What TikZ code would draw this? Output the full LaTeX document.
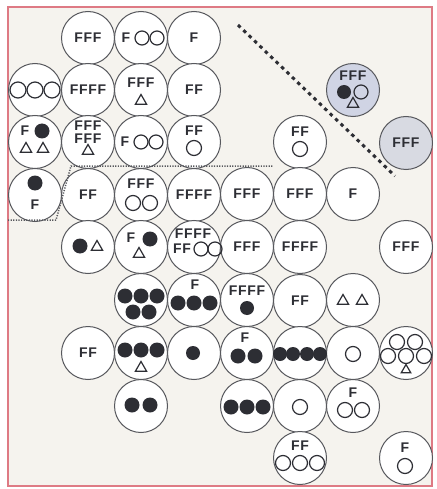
\documentclass[tikz,border=0pt]{standalone}
\usepackage{fontspec}
\newfontfamily\cellfont[LetterSpace=5]{Liberation Sans}
\usetikzlibrary{shapes.geometric}
\definecolor{ink}{RGB}{45,46,52}
\definecolor{frame}{RGB}{222,122,132}
\definecolor{paper}{RGB}{245,243,238}
\definecolor{bluish}{RGB}{208,212,228}
\definecolor{greyish}{RGB}{216,218,226}

\begin{document}
\begin{tikzpicture}[x=1pt,y=-1pt,
  cel/.style={draw=ink!80,line width=1pt,circle,fill=white,minimum size=53pt,inner sep=0pt,
    font=\cellfont\bfseries\fontsize{14}{14}\selectfont,text=ink},
  lab/.style={inner sep=0pt,font=\cellfont\bfseries\fontsize{14}{14}\selectfont,text=ink},
  dt/.style={circle,fill=ink,minimum size=15pt,inner sep=0pt},
  rg/.style={circle,draw=ink,line width=1.2pt,minimum size=15pt,inner sep=0pt},
  tr/.style={regular polygon,regular polygon sides=3,draw=ink,line width=1.2pt,minimum size=13pt,inner sep=0pt}]
\useasboundingbox (0,0) rectangle (436,489);
\fill[white] (0,0) rectangle (436,489);
\draw[frame,line width=1.5pt,fill=paper] (8,7) rectangle (432,486);

% row 1
\node[cel] (a1) at (88,38) {FFF};
\node[cel] (a2) at (141,38) {};
\node[cel] (a3) at (194,38) {F};
% row 2
\node[cel] (b0) at (35,90) {};
\node[cel] (b1) at (88,90) {FFFF};
\node[cel] (b2) at (141,90) {};
\node[cel] (b3) at (194,90) {FF};
\node[cel,fill=bluish] (b6) at (353,90) {};
% row 3
\node[cel] (c0) at (35,142) {};
\node[cel] (c1) at (88,142) {};
\node[cel] (c2) at (141,142) {};
\node[cel] (c3) at (194,142) {};
\node[cel] (c5) at (300,142) {};
\node[cel,fill=greyish] (c7) at (406,143) {FFF};
% row 4
\node[cel] (d0) at (35,195) {};
\node[cel] (d1) at (88,195) {FF};
\node[cel] (d2) at (141,195) {};
\node[cel] (d3) at (194,195) {FFFF};
\node[cel] (d4) at (247,194) {FFF};
\node[cel] (d5) at (300,194) {FFF};
\node[cel] (d6) at (353,194) {F};
% row 5
\node[cel] (e1) at (88,247) {};
\node[cel] (e2) at (141,247) {};
\node[cel] (e3) at (194,247) {};
\node[cel] (e4) at (247,247) {FFF};
\node[cel] (e5) at (300,247) {FFFF};
\node[cel] (e7) at (406,247) {FFF};
% row 6
\node[cel] (f2) at (141,300) {};
\node[cel] (f3) at (194,300) {};
\node[cel] (f4) at (247,300) {};
\node[cel] (f5) at (300,301) {FF};
\node[cel] (f6) at (353,300) {};
% row 7
\node[cel] (g1) at (88,353) {FF};
\node[cel] (g2) at (141,353) {};
\node[cel] (g3) at (194,353) {};
\node[cel] (g4) at (247,353) {};
\node[cel] (g5) at (300,353) {};
\node[cel] (g6) at (353,353) {};
\node[cel] (g7) at (406,353) {};
% row 8
\node[cel] (h2) at (141,406) {};
\node[cel] (h4) at (247,406) {};
\node[cel] (h5) at (300,406) {};
\node[cel] (h6) at (353,406) {};
% row 9
\node[cel] (i5) at (300,458) {};
\node[cel] (i7) at (406,458) {};

% contents
\node[lab] (a2t) at (126,38) {F};
\node[rg,minimum size=14pt] (a2r1) at (142,38) {};
\node[rg,minimum size=14pt] (a2r2) at (157,38) {};

\node[rg,minimum size=16pt] (b0r1) at (18,90) {};
\node[rg,minimum size=16pt] (b0r2) at (35,90) {};
\node[rg,minimum size=16pt] (b0r3) at (52,90) {};
\node[lab] (b2t) at (141,83) {FFF};
\node[tr] (b2s) at (141,101) {};
\node[lab] (b6t) at (353,76) {FFF};
\node[dt,minimum size=14pt] (b6d) at (344,92) {};
\node[rg,minimum size=14pt] (b6r) at (361,92) {};
\node[tr] (b6s) at (353,104) {};

\node[lab] (c0t) at (25,131) {F};
\node[dt] (c0d) at (42,131) {};
\node[tr] (c0s1) at (26,149) {};
\node[tr] (c0s2) at (43,149) {};
\node[lab] (c1t1) at (88,126) {FFF};
\node[lab] (c1t2) at (88,139) {FFF};
\node[tr] (c1s) at (88,151) {};
\node[lab] (c2t) at (125,142) {F};
\node[rg,minimum size=14pt] (c2r1) at (141,142) {};
\node[rg,minimum size=14pt] (c2r2) at (156,142) {};
\node[lab] (c3t) at (194,131) {FF};
\node[rg] (c3r) at (194,148) {};
\node[lab] (c5t) at (300,132) {FF};
\node[rg] (c5r) at (300,149) {};

\node[dt] (d0d) at (35,183) {};
\node[lab] (d0t) at (35,205) {F};
\node[lab] (d2t) at (141,184) {FFF};
\node[rg] (d2r1) at (133,203) {};
\node[rg] (d2r2) at (150,203) {};

\node[dt] (e1d) at (80,246) {};
\node[tr] (e1s) at (97,247) {};
\node[lab] (e2t) at (131,238) {F};
\node[dt] (e2d) at (150,239) {};
\node[tr] (e2s) at (139,254) {};
\node[lab] (e3t1) at (193,234) {FFFF};
\node[lab] (e3t2) at (182,249) {FF};
\node[rg,minimum size=14pt] (e3r1) at (201,249) {};
\node[rg,minimum size=14pt] (e3r2) at (215,249) {};

\node[dt] (f2d1) at (125,296) {};
\node[dt] (f2d2) at (141,296) {};
\node[dt] (f2d3) at (157,296) {};
\node[dt] (f2d4) at (133,312) {};
\node[dt] (f2d5) at (149,312) {};
\node[lab] (f3t) at (195,285) {F};
\node[dt] (f3d1) at (178,303) {};
\node[dt] (f3d2) at (194,303) {};
\node[dt] (f3d3) at (210,303) {};
\node[lab] (f4t) at (247,291) {FFFF};
\node[dt,minimum size=14pt] (f4d) at (247,308) {};
\node[tr] (f6s1) at (343,301) {};
\node[tr] (f6s2) at (362,301) {};

\node[dt] (g2d1) at (125,350) {};
\node[dt] (g2d2) at (141,350) {};
\node[dt] (g2d3) at (157,350) {};
\node[tr] (g2s) at (141,368) {};
\node[dt,minimum size=14pt] (g3d) at (193,353) {};
\node[lab] (g4t) at (245,338) {F};
\node[dt] (g4d1) at (238,356) {};
\node[dt] (g4d2) at (255,356) {};
\node[dt,minimum size=14pt] (g5d1) at (280,354) {};
\node[dt,minimum size=14pt] (g5d2) at (293,354) {};
\node[dt,minimum size=14pt] (g5d3) at (307,354) {};
\node[dt,minimum size=14pt] (g5d4) at (320,354) {};
\node[rg] (g6r) at (353,354) {};
\node[rg] (g7r1) at (397,342) {};
\node[rg] (g7r2) at (415,342) {};
\node[rg] (g7r3) at (388,356) {};
\node[rg] (g7r4) at (406,356) {};
\node[rg] (g7r5) at (424,356) {};
\node[tr,minimum size=11pt] (g7s) at (406,370) {};

\node[dt] (h2d1) at (132,405) {};
\node[dt] (h2d2) at (150,405) {};
\node[dt] (h4d1) at (231,407) {};
\node[dt] (h4d2) at (247,407) {};
\node[dt] (h4d3) at (263,407) {};
\node[rg] (h5r) at (300,407) {};
\node[lab] (h6t) at (353,393) {F};
\node[rg] (h6r1) at (345,410) {};
\node[rg] (h6r2) at (362,410) {};

\node[lab] (i5t) at (300,446) {FF};
\node[rg] (i5r1) at (283,463) {};
\node[rg] (i5r2) at (300,463) {};
\node[rg] (i5r3) at (317,463) {};
\node[lab] (i7t) at (405,448) {F};
\node[rg] (i7r) at (405,466) {};

% separators
\coordinate (s1) at (238,25);
\coordinate (s2) at (395,176);
\draw[ink,line width=3pt,dash pattern=on 3.5pt off 4pt] (s1) -- (s2);
\coordinate (p1) at (8,220);
\coordinate (p2) at (56,220);
\coordinate (p3) at (71,166);
\coordinate (p4) at (273,166);
\draw[ink!80,line width=1.5pt,dash pattern=on 1.2pt off 1.4pt] (p1) -- (p2) -- (p3) -- (p4);
\end{tikzpicture}
\end{document}
